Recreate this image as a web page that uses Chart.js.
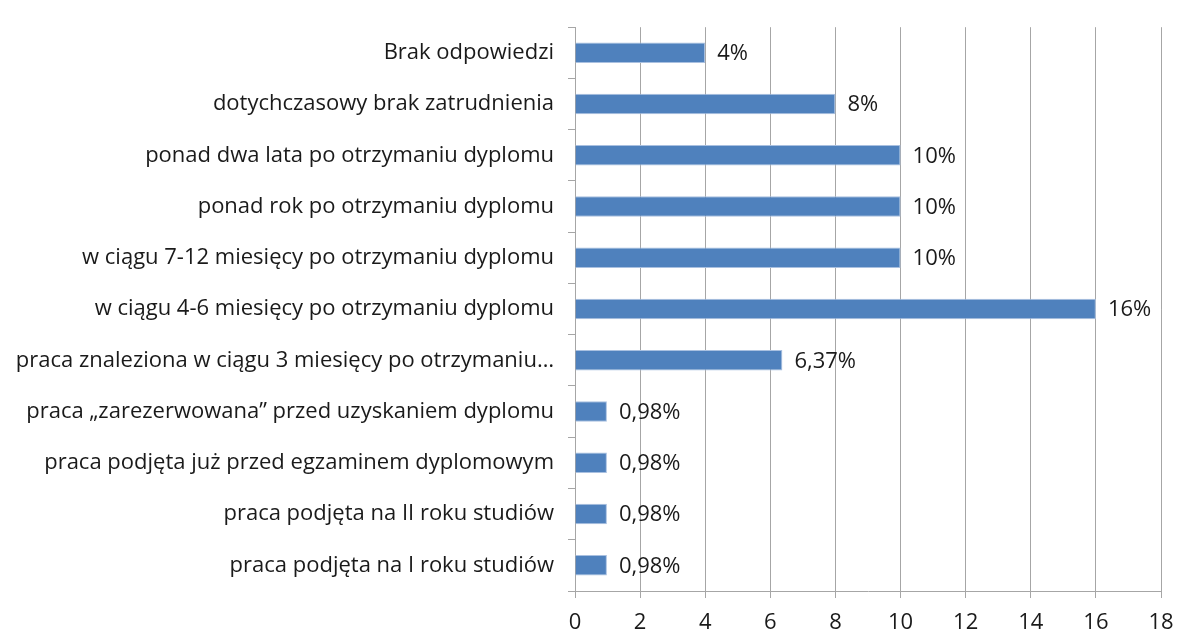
<!DOCTYPE html>
<html>
<head>
<meta charset="utf-8">
<script src="https://cdn.jsdelivr.net/npm/chart.js@4/dist/chart.umd.min.js"></script>
<style>
    html, body { margin: 0; padding: 0; background: #fff; }
    #wrap { width: 1179px; height: 633px; position: relative; }
</style>
</head>
<body>
<div id="wrap"><canvas id="chart"></canvas></div>
<script>
const categories = [
    'Brak odpowiedzi',
    'dotychczasowy brak zatrudnienia',
    'ponad dwa lata po otrzymaniu dyplomu',
    'ponad rok po otrzymaniu dyplomu',
    'w ciągu 7-12 miesięcy po otrzymaniu dyplomu',
    'w ciągu 4-6 miesięcy po otrzymaniu dyplomu',
    'praca znaleziona w ciągu 3 miesięcy po otrzymaniu…',
    'praca „zarezerwowana” przed uzyskaniem dyplomu',
    'praca podjęta już przed egzaminem dyplomowym',
    'praca podjęta na II roku studiów',
    'praca podjęta na I roku studiów'
];
const values = [4, 8, 10, 10, 10, 16, 6.37, 0.98, 0.98, 0.98, 0.98];
const valueLabels = ['4%', '8%', '10%', '10%', '10%', '16%', '6,37%', '0,98%', '0,98%', '0,98%', '0,98%'];
const xTicks = { min: 0, max: 18, step: 2 };

const FONT = '"Open Sans", sans-serif';

// draws the value text next to each bar
const barLabels = {
    id: 'barLabels',
    afterDatasetsDraw(chart) {
        const ctx = chart.ctx;
        const meta = chart.getDatasetMeta(0);
        ctx.save();
        ctx.font = '22px ' + FONT;
        ctx.fillStyle = '#1a1a1a';
        ctx.textAlign = 'left';
        ctx.textBaseline = 'middle';
        meta.data.forEach((bar, i) => {
            ctx.fillText(valueLabels[i], bar.x + 12, bar.y + 1);
        });
        ctx.restore();
    }
};

const ctx = document.getElementById('chart').getContext('2d');
new Chart(ctx, {
    type: 'bar',
    data: {
        labels: categories,
        datasets: [{
            data: values,
            backgroundColor: '#4F81BD',
            borderColor: '#A9C0E0',
            borderWidth: 1,
            categoryPercentage: 0.4,
            barPercentage: 1
        }]
    },
    options: {
        indexAxis: 'y',
        responsive: true,
        maintainAspectRatio: false,
        animation: false,
        layout: { padding: { top: 15, right: 18, left: 0, bottom: 0 } },
        plugins: {
            legend: { display: false },
            tooltip: { enabled: false }
        },
        scales: {
            x: {
                min: xTicks.min,
                max: xTicks.max,
                afterFit(scale) {
                    scale.height = 42;
                    scale.paddingRight = 0;
                    scale.paddingLeft = 0;
                },
                ticks: {
                    stepSize: xTicks.step,
                    color: '#1a1a1a',
                    font: { family: FONT, size: 22 },
                    padding: 12
                },
                grid: { color: '#A6A6A6', tickLength: 7, tickColor: '#A6A6A6' },
                border: { color: '#A6A6A6' }
            },
            y: {
                afterFit(scale) { scale.width = 575; },
                ticks: {
                    color: '#1a1a1a',
                    font: { family: FONT, size: 22 },
                    padding: 14,
                    autoSkip: false
                },
                grid: { drawOnChartArea: false, tickLength: 7, color: '#A6A6A6' },
                border: { color: '#A6A6A6' }
            }
        }
    },
    plugins: [barLabels]
});
</script>
</body>
</html>
